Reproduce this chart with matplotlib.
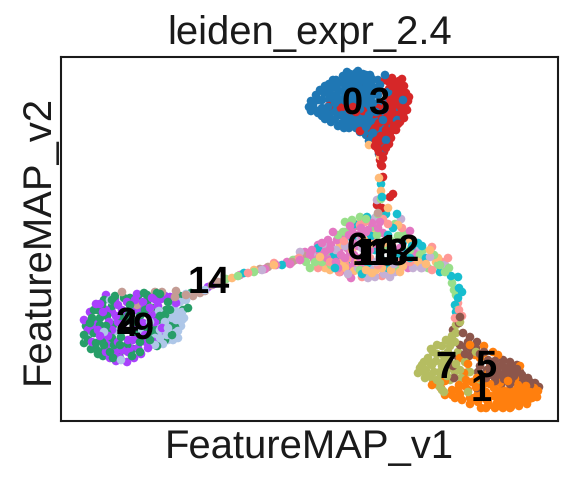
import numpy as np
import matplotlib
matplotlib.use("Agg")
import matplotlib.pyplot as plt

plt.rcParams['font.family'] = ['Liberation Sans', 'DejaVu Sans']
plt.rcParams['text.hinting'] = 'no_hinting'
plt.rcParams['text.hinting_factor'] = 1

# embedding coordinates per leiden cluster
c0 = [(309,107),(311,101),(316,95),(315,110),(320,90),(322,100),(322,108),(322,116),(329,84),(329,92),(329,99),(328,107),
      (329,115),(336,80),(336,87),(336,95),(335,103),(335,111),(335,119),(343,76),(343,83),(343,91),(343,99),(342,107),
      (342,115),(342,123),(350,74),(350,81),(350,88),(350,96),(349,104),(349,112),(349,120),(349,128),(356,73),(357,80),
      (357,88),(357,96),(356,104),(356,112),(356,120),(356,128),(363,74),(364,81),(364,89),(364,97),(363,105),(363,113),
      (363,121),(363,129),(370,75),(371,83),(370,91),(370,99),(369,107),(369,115),(370,123),(366,135),(372,137),(375,143),
      (378,80),(376,91),(378,103),(376,112),(381,128),(388,118),(386,140),(394,112),(379,154),(388,92),(400,115),(385,75),
      (376,130),(383,103),
      (313,105),(318,100),(324,93),(326,111),(332,88),(332,96),(332,103),(332,111),(339,83),(339,91),(339,99),(339,107),
      (339,115),(346,79),(346,86),(346,94),(346,102),(346,110),(346,118),(346,126),(353,77),(353,84),(353,92),(353,100),
      (353,108),(353,116),(353,124),(360,78),(360,85),(360,93),(360,101),(360,109),(360,117),(360,125),(367,79),(367,87),
      (367,95),(367,103),(367,111),(367,119),(373,87),(373,95),(373,103),(318,113),(325,119),(331,122),(338,126),(344,128),
      (311,111),(360,132),(366,127),(369,141),(373,133),(325,86),(333,80),(380,85),(372,79),(366,75),(358,71),(347,72),
      (385,112),(392,128),(380,140),(378,95),(395,104),(383,120),(378,126),(389,106),(385,148),(374,120),(403,100),(397,120)]
c3 = [(385,80),(392,78),(399,81),(404,86),(392,86),(399,89),(406,93),(386,92),(393,94),(400,97),(408,101),(386,100),
      (393,102),(401,105),(407,110),(378,108),(385,108),(392,110),(400,112),(404,118),(374,114),(380,115),(387,117),(395,118),
      (372,122),(379,123),(386,125),(394,126),(400,122),(369,130),(375,128),(382,133),(390,133),(396,130),(371,138),(378,137),
      (385,140),(391,138),(375,146),(381,146),(386,148),(379,152),(383,158),(381,165),(342,105),(331,103),(329,106),(350,110),
      (356,112),(363,111),(367,84),(341,108),(360,131),(353,107),
      (389,82),(396,84),(403,90),(389,89),(396,91),(404,98),(389,97),(397,99),(405,106),(382,104),(389,105),(396,106),
      (403,114),(377,111),(384,112),(391,114),(398,115),(377,119),(384,121),(391,122),(398,124),(372,126),(379,130),(386,130),
      (393,130),(374,134),(381,136),(388,136),(376,141),(383,143),(389,144),(378,149),(384,152),(380,160),(409,97),(402,79),
      (382,166),(383,177),(390,197),(377,205),(382,208),(393,194)]
c10 = [(369,145),(380,156),(379,178),(381,191),(356,224),(364,240),(340,245),(320,257),(345,268),(375,231),(398,225),(410,240),
       (430,250),(418,262),(400,272),(372,273),(358,262),(334,255),(274,265),(254,270),(232,278),(388,208),(436,262),(349,275),(382,268),
       (325,268),(342,262),(354,271),(366,270),(376,270),(392,258),(403,266),(414,262),(426,264),(438,258),(384,243),(370,244),
       (352,250),(330,270),(391,270)]
c8 = [(381,184),(382,197),(367,217),(386,214),(397,214),(354,224),(388,235),(418,243),(403,242),(426,258),(440,272),(458,277),
      (459,288),(455,305),(335,268),(318,248),(335,258),(362,274),(380,257),(399,256),(371,236),(282,265),(244,273),(458,298),
      (346,262),(368,263),(388,268),(412,246),(422,246),(405,252),(393,228),(360,245),(375,250),(352,238),(330,254),(410,258),
      (451,276),(462,292),(456,312)]
c6 = [(305,252),(304,260),(312,250),(314,259),(322,243),(320,252),(328,240),(330,249),(327,258),(333,232),(337,240),(339,250),
      (336,262),(345,237),(347,248),(345,258),(352,230),(353,243),(354,255),(352,267),(361,228),(362,236),(360,258),(380,222),
      (372,223),(351,278),(340,272),(383,233),(410,231),(408,268),(290,264),(276,265),(265,269),(240,275),(414,253),(390,262),
      (310,255),(318,245),(325,252),(331,245),(342,244),(349,235),(350,252),(341,255),(358,246),(358,235),(366,232),(355,262),
      (348,270),(338,268),(368,230),(378,228),(362,265),(370,250),(400,248),(376,244),(350,226),(381,198),(287,262),(300,260)]
c11 = [(315,262),(310,268),(326,252),(343,232),(345,222),(366,219),(372,227),(377,235),(395,224),(423,250),(434,255),(438,265),
       (445,272),(452,283),(456,295),(293,260),(254,272),(238,276),(360,270),(398,267),(381,199),(378,214),(360,217),(458,310),(331,265),
       (338,235),(345,232),(322,262),(306,262),(352,220),(385,246),(398,236),(404,234),(410,250),(420,255),(428,268),(440,265),
       (365,272),(390,240),(449,268),(454,290),(226,279)]
c12 = [(330,262),(318,268),(344,241),(365,222),(388,224),(402,228),(372,238),(392,245),(420,262),(448,258),(432,270),(458,303),
       (459,310),(462,316),(382,276),(362,277),(274,263),(248,273),(378,265),(345,264),(299,258),(432,247),
       (328,262),(339,272),(350,258),(370,258),(382,262),(398,262),(410,262),(442,262),(380,250),(360,225),(383,219),(455,318)]
c13 = [(325,247),(318,255),(336,250),(356,238),(362,248),(401,219),(375,218),(368,278),(375,277),(398,267),(413,268),(421,268),
       (430,257),(445,265),(395,272),(300,252),(390,277),(348,274),(405,262),(384,270),(377,200),
       (312,253),(340,258),(370,268),(384,274),(394,264),(406,258),(416,250),(422,268),(358,268),(376,262),(345,246),(262,270)]
c14 = [(292,262),(304,256),(268,267),(224,281),(193,296),(175,297),(162,292),(358,226),(378,213),(155,292),(176,291),(205,291),
       (137,305),(122,292),(150,308),(212,285),(295,260),(200,293),(186,295),(218,283),(260,269),(218,282)]
c2 = [(84,343),(91,349),(98,354),(88,335),(96,343),(104,350),(86,326),(94,333),(102,340),(110,352),(92,318),(100,325),(107,333),
      (114,345),(98,310),(107,316),(113,325),(121,337),(104,300),(112,306),(120,316),(127,345),(124,298),(130,305),(138,296),
      (147,295),(157,293),(147,303),(140,316),(135,332),(150,340),(157,346),(165,340),(172,335),(175,327),(183,310),(188,308),
      (166,310),(168,302),(158,320),(119,355),(140,352),(155,330),(180,296),(128,320),(115,296),(165,315),(102,305),(133,349),
      (88,340),(96,349),(104,345),(90,323),(100,318),(106,326),(112,338),(103,356),(113,358),(124,350),(132,356),(128,312),
      (136,322),(145,310),(152,308),(140,342),(148,330),(154,336),(160,316),(170,310),(170,322),(112,300),(94,310),(120,345),
      (84,335),(130,298),(160,294),(144,293),(191,293)]
c4 = [(96,304),(90,312),(103,312),(84,320),(96,322),(109,322),(88,330),(100,336),(112,330),(115,300),(122,310),(127,302),
      (135,310),(143,302),(137,294),(152,298),(158,306),(150,315),(143,323),(133,340),(124,330),(118,342),(108,344),(128,352),
      (120,358),(127,362),(134,358),(141,354),(148,348),(154,342),(160,335),(145,335),(110,358),(135,330),(155,322),(170,297),
      (176,303),(124,322),(106,295),(92,342),(161,299),(116,316),
      (100,304),(92,326),(98,330),(106,310),(112,312),(118,322),(128,315),(118,305),(135,300),(141,310),(150,308),(155,315),
      (138,337),(128,340),(115,352),(108,336),(122,350),(130,348),(138,348),(146,342),(162,328),(156,300),(165,296),(106,352),
      (116,361),(208,287),(214,284)]
c9 = [(159,324),(165,322),(172,318),(178,315),(182,320),(176,311),(168,328),(175,333),(181,326),(160,338),(167,335),(173,340),
      (178,338),(163,344),(155,345),(180,302),(172,306),(150,322),(142,330),(132,322),(110,300),(112,323),(104,332),(87,338),
      (117,350),(121,360),(186,294),(205,290),(159,311),(115,331),
      (165,316),(160,330),(170,325),(176,320),(182,312),(184,318),(155,338),(168,340),(178,331),(186,300),(150,345)]
c7 = [(418,373),(422,365),(428,358),(426,370),(433,352),(436,361),(434,372),(442,346),(443,355),(442,366),(425,378),(433,380),
      (441,376),(446,340),(452,336),(450,346),(449,358),(447,370),(455,342),(458,352),(456,364),(465,362),(461,378),(442,390),
      (450,380),(470,372),(460,322),(456,333),(468,392),(476,352),(478,384),(439,386),(455,372),
      (420,368),(424,372),(430,363),(431,349),(437,345),(437,354),(432,365),(440,372),(437,380),(444,361),(448,352),(452,340),
      (424,362),(429,376),(440,383),(450,363),(447,376),(460,370),(468,372),(444,392),(456,325)]
c5 = [(460,317),(459,323),(453,330),(463,333),(470,337),(477,342),(460,345),(457,356),(465,354),(480,354),(488,360),(495,361),
      (503,360),(510,362),(517,365),(520,372),(528,378),(535,383),(539,387),(498,367),(505,368),(512,370),(492,375),(499,375),
      (506,376),(514,376),(521,378),(495,381),(502,383),(510,384),(480,366),(487,370),(453,366),(469,356),(478,372),(477,388),
      (530,382),(454,378),(466,347),
      (494,366),(502,365),(510,367),(517,369),(490,372),(497,371),(505,372),(513,373),(522,375),(530,385),(496,378),(504,379),
      (511,380),(522,381),(490,363),(476,348),(484,352),(468,342),(472,350),(486,378)]
c1 = [(484,346),(493,352),(498,355),(480,358),(470,345),(460,358),(464,373),(432,385),(441,388),(452,390),(459,385),(466,380),
      (452,395),(460,394),(468,390),(476,387),(484,384),(462,400),(470,398),(478,394),(486,392),(494,388),(502,389),(510,389),
      (518,385),(526,386),(534,388),(470,404),(478,402),(486,399),(494,396),(502,396),(510,396),(518,394),(526,393),(534,394),
      (481,408),(489,405),(497,403),(505,403),(513,402),(521,400),(529,399),(537,397),(495,408),(503,408),(511,407),(519,406),
      (527,404),(477,378),(488,374),(468,364),(445,381),(515,379),(520,366),
      (474,398),(482,396),(490,396),(498,392),(506,393),(514,392),(522,390),(530,392),(488,402),(500,400),(508,400),(516,398),
      (524,397),(532,398),(478,390),(490,384),(500,383),(508,381),(518,388),(528,388),(465,386),(458,390),(486,408),(500,406),
      (510,408),(520,402),(538,391),(490,367),(484,353),(475,355),(455,398),(445,395),(472,382)]

cluster_points = [c0,c3,c10,c8,c6,c11,c12,c13,c14,c2,c4,c9,c7,c5,c1]
colors = ['#1f77b4','#d62728','#ffbb78','#17becf','#e377c2','#98df8a','#ff9896','#c5b0d5','#c49c94',
          '#279e68','#aa40fc','#aec7e8','#b5bd61','#8c564b','#ff7f0e']

# label text and where each one sits (cluster medians)
label_text = ['0','3','14','2','4','9','7','5','1','6','11','8','12','10','13']
label_x = [352,379,209,126,127,143,446,486,481,357,372,386,399,378,388]
label_y = [104,104,283,324,326,329,368,367,391,249,255,255,251,255,255]

xs = np.concatenate([[p[0] for p in pts] for pts in cluster_points])
ys = np.concatenate([[p[1] for p in pts] for pts in cluster_points])
cs = np.concatenate([[col]*len(pts) for col, pts in zip(colors, cluster_points)])

# clusters are interleaved so no colour sits fully on top
order = np.argsort((np.arange(len(xs)) * 0.618034) % 1)

fig = plt.figure(figsize=(3.84, 3.22), dpi=150)
ax = fig.add_axes([61/576, 1-421/483, (558-61)/576, (421-57)/483])
ax.scatter(xs[order], ys[order], c=cs[order], s=17, linewidths=0)
for t, x, y in zip(label_text, label_x, label_y):
    ax.text(x, y, t, fontsize=18, fontweight='bold', ha='center', va='center', color='black')

ax.set_xlim(61, 558)
ax.set_ylim(421, 57)
ax.set_xticks([])
ax.set_yticks([])
for sp in ax.spines.values():
    sp.set_linewidth(1.0)
    sp.set_color('#1a1a1a')
ax.set_title('leiden_expr_2.4', fontsize=19, color='#1a1a1a', pad=6)
ax.set_xlabel('FeatureMAP_v1', fontsize=19, color='#1a1a1a', labelpad=4)
ax.set_ylabel('FeatureMAP_v2', fontsize=19, color='#1a1a1a', labelpad=2)

fig.savefig('out.png', dpi=150)
